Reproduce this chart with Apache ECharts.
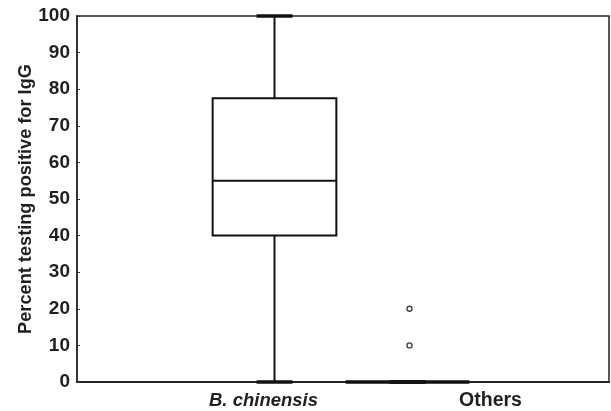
<!DOCTYPE html>
<html>
<head>
<meta charset="utf-8">
<script src="https://cdn.jsdelivr.net/npm/echarts@6/dist/echarts.min.js"></script>
<style>
  html, body { margin: 0; padding: 0; background: #fff; }
  #chart { width: 611px; height: 411px; }
</style>
</head>
<body>
<div id="chart"></div>
<script>
// Groups and their five-number summaries (percent testing positive for IgG)
const categories = ['B. chinensis', 'Others'];
const boxMin    = [0, 0];
const boxQ1     = [40, 0];
const boxMedian = [55, 0];
const boxQ3     = [77.5, 0];
const boxMax    = [100, 0];

// Outlying observations: [group, value]
const outlierGroups = ['Others', 'Others'];
const outlierValues = [10, 20];

// Y axis ticks
const yTicks = [0, 10, 20, 30, 40, 50, 60, 70, 80, 90, 100];

// Empty bands either side leave room around the two boxes
const axisCategories = [''].concat(categories, ['']);

const boxData = categories.map((c, i) => [
  axisCategories.indexOf(c), boxMin[i], boxQ1[i], boxMedian[i], boxQ3[i], boxMax[i]
]);
const outlierData = outlierGroups.map((g, i) => [g, outlierValues[i]]);

const INK = '#111';

function renderBox(params, api) {
  const idx = api.value(0);
  const band = api.size([1, 0])[0];
  const boxHalf = band * 0.465;
  const capHalf = band * 0.135;
  const pMin = api.coord([idx, api.value(1)]);
  const pQ1 = api.coord([idx, api.value(2)]);
  const pMed = api.coord([idx, api.value(3)]);
  const pQ3 = api.coord([idx, api.value(4)]);
  const pMax = api.coord([idx, api.value(5)]);
  const cx = pMed[0] - 2;
  const flat = pQ1[1] - pQ3[1] < 1;
  const lineStyle = { stroke: INK, lineWidth: 2, fill: null };
  const capStyle = { stroke: INK, lineWidth: 3.5, fill: null };
  return {
    type: 'group',
    children: [
      { type: 'line', shape: { x1: cx, y1: pQ3[1], x2: cx, y2: pMax[1] }, style: lineStyle },
      { type: 'line', shape: { x1: cx, y1: pQ1[1], x2: cx, y2: pMin[1] }, style: lineStyle },
      { type: 'line', shape: { x1: cx - capHalf, y1: pMax[1], x2: cx + capHalf, y2: pMax[1] }, style: capStyle },
      { type: 'line', shape: { x1: cx - capHalf, y1: pMin[1], x2: cx + capHalf, y2: pMin[1] }, style: capStyle },
      { type: 'rect', shape: { x: cx - boxHalf, y: pQ3[1], width: boxHalf * 2, height: pQ1[1] - pQ3[1] },
        style: { stroke: INK, lineWidth: flat ? 3.5 : 2, fill: null } },
      { type: 'line', shape: { x1: cx - boxHalf, y1: pMed[1], x2: cx + boxHalf, y2: pMed[1] }, style: lineStyle }
    ]
  };
}

const chart = echarts.init(document.getElementById('chart'), null, { renderer: 'canvas' });
const font = '"Liberation Sans", Arial, sans-serif';
const textColor = '#1f1f1f';

chart.setOption({
  animation: false,
  backgroundColor: '#fff',
  grid: {
    left: 77, right: 2, top: 16, bottom: 29,
    show: true, borderColor: '#222', borderWidth: 1.5, backgroundColor: 'transparent'
  },
  xAxis: {
    type: 'category',
    data: axisCategories,
    boundaryGap: true,
    axisLine: { lineStyle: { color: '#222', width: 2 } },
    axisTick: { show: false },
    splitLine: { show: false },
    axisLabel: {
      margin: 9,
      interval: 0,
      color: textColor,
      fontFamily: font,
      fontSize: 18.5,
      fontWeight: 'bold',
      formatter: v => v === 'B. chinensis' ? '{i|' + v + '}' : (v === 'Others' ? '{o|' + v + '}' : v),
      rich: {
        i: { fontStyle: 'italic', fontWeight: 'bold', fontSize: 18.5, fontFamily: font, color: textColor,
             padding: [0, 26, 0, 0] },
        o: { fontWeight: 'bold', fontSize: 19.5, fontFamily: font, color: textColor,
             padding: [0, 0, 0, 162] }
      }
    }
  },
  yAxis: {
    type: 'value',
    min: yTicks[0],
    max: yTicks[yTicks.length - 1],
    interval: yTicks[1] - yTicks[0],
    name: 'Percent testing positive for IgG',
    nameLocation: 'middle',
    nameRotate: 90,
    nameGap: 42,
    nameMoveOverlap: false,
    nameTextStyle: { fontFamily: font, fontSize: 18.2, fontWeight: 'bold', color: textColor },
    axisLine: { show: true, lineStyle: { color: '#333', width: 2 } },
    axisTick: { show: true, inside: true, length: 3, lineStyle: { color: '#333', width: 1 } },
    splitLine: { show: false },
    axisLabel: {
      margin: 7,
      color: textColor,
      fontFamily: font,
      fontSize: 19,
      fontWeight: 'bold'
    }
  },
  series: [
    {
      type: 'custom',
      renderItem: renderBox,
      clip: false,
      encode: { x: 0, y: [1, 2, 3, 4, 5] },
      data: boxData,
      z: 3
    },
    {
      type: 'scatter',
      data: outlierData,
      symbol: 'circle',
      symbolSize: 5,
      itemStyle: { color: '#fff', borderColor: INK, borderWidth: 1.4 },
      z: 4
    }
  ]
});
</script>
</body>
</html>
